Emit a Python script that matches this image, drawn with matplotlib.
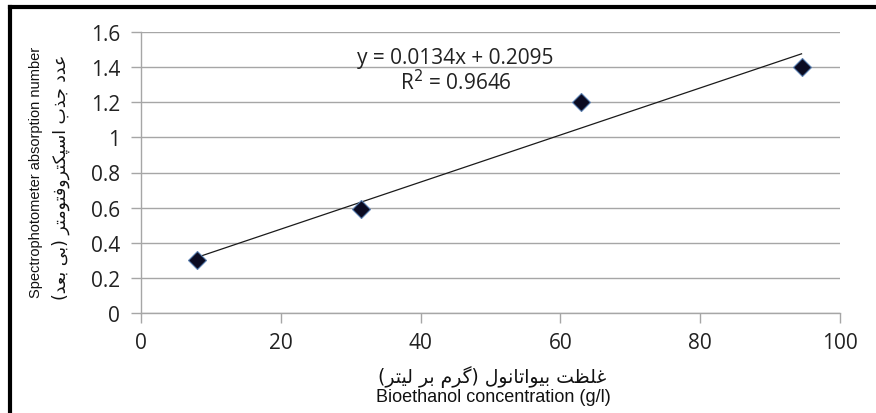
import unicodedata
import numpy as np
import matplotlib
matplotlib.use("Agg")
import matplotlib.pyplot as plt
from matplotlib.lines import Line2D

# data
conc = [8, 31.5, 63, 94.5]
absorb = [0.3, 0.59, 1.2, 1.4]
slope, intercept = 0.0134, 0.2095
eq_text = "y = 0.0134x + 0.2095"
r2_text = "R$^2$ = 0.9646"
x_ticks = [0, 20, 40, 60, 80, 100]
y_ticks = [0, 0.2, 0.4, 0.6, 0.8, 1, 1.2, 1.4, 1.6]
y_tick_labels = ["0", "0.2", "0.4", "0.6", "0.8", "1", "1.2", "1.4", "1.6"]
xlabel_fa = "غلظت بیواتانول (گرم بر لیتر)"
xlabel_en = "Bioethanol concentration (g/l)"
ylabel_fa = "عدد جذب اسپکتروفتومتر (بی بعد)"
ylabel_en = "Spectrophotometer absorption number"

# matplotlib has no arabic shaping, so pick contextual forms by hand
RIGHT_ONLY = set("ادذرزژوآأإؤة")


def is_ar(c):
    return "\u0600" <= c <= "\u06ff" and unicodedata.name(c, "").startswith("ARABIC LETTER")


def shape(s):
    out = []
    for i, c in enumerate(s):
        if not is_ar(c):
            out.append({"(": ")", ")": "("}.get(c, c))
            continue
        prev = s[i - 1] if i > 0 else ""
        nxt = s[i + 1] if i + 1 < len(s) else ""
        j_prev = prev != "" and is_ar(prev) and prev not in RIGHT_ONLY
        j_next = nxt != "" and is_ar(nxt) and c not in RIGHT_ONLY
        form = {(True, True): "MEDIAL", (True, False): "FINAL",
                (False, True): "INITIAL", (False, False): "ISOLATED"}[(j_prev, j_next)]
        try:
            out.append(unicodedata.lookup(unicodedata.name(c) + " " + form + " FORM"))
        except KeyError:
            out.append(c)
    return "".join(out[::-1])


fig = plt.figure(figsize=(8.76, 4.14), dpi=100)
ax = fig.add_axes([141 / 876, 1 - 314 / 414, (840 - 141) / 876, (314 - 33) / 414])

grid_c = "#a6a6a6"
ax.set_xlim(0, 100)
ax.set_ylim(0, 1.6)
ax.set_xticks(x_ticks)
ax.set_yticks(y_ticks)
ax.set_yticklabels(y_tick_labels)
ax.grid(axis="y", color=grid_c, lw=1)
ax.set_axisbelow(True)
for side in ["top", "right"]:
    ax.spines[side].set_visible(False)
for side in ["left", "bottom"]:
    ax.spines[side].set_color(grid_c)
    ax.spines[side].set_linewidth(1)
ax.tick_params(colors=grid_c, length=7, width=1, labelcolor="#222222",
               labelsize=15)
ax.tick_params(axis="x", pad=7)
ax.tick_params(axis="y", pad=8)
for lab in ax.get_xticklabels() + ax.get_yticklabels():
    lab.set_family("Open Sans")

xs = np.array([min(conc), max(conc)])
ax.plot(xs, slope * xs + intercept, color="#1a1a1a", lw=0.9, zorder=2)
ax.plot(conc, absorb, ls="none", marker="D", ms=9.5, mfc="#0b0b22",
        mec="#5a7fb0", mew=0.8, zorder=3)

ax.text(45, 1.455, eq_text, ha="center", va="center", fontsize=15,
        family="Open Sans", color="#222222")
ax.text(45, 1.32, r2_text, ha="center", va="center", fontsize=15,
        family="Open Sans", color="#222222")

fig.text(492 / 876, 1 - 377 / 414, shape(xlabel_fa), ha="center", va="center",
         fontsize=13.5, family="DejaVu Sans", color="#111111")
fig.text(493 / 876, 1 - 398 / 414, xlabel_en, ha="center", va="center",
         fontsize=13, family="Liberation Sans", color="#111111")
fig.text(36 / 876, 1 - 172 / 414, ylabel_en, ha="center", va="center",
         rotation=90, fontsize=10.5, family=["Liberation Sans Narrow", "Liberation Sans"],
         color="#111111")
fig.text(61 / 876, 1 - 177 / 414, shape(ylabel_fa), ha="center", va="center",
         rotation=90, fontsize=12.5, family="DejaVu Sans", color="#111111")

# outer frame, only left and top edges show in the crop
fig.add_artist(Line2D([10 / 876, 10 / 876], [0, 1 - 8 / 414], transform=fig.transFigure,
                      color="black", lw=3))
fig.add_artist(Line2D([10 / 876, 1], [1 - 8 / 414, 1 - 8 / 414], transform=fig.transFigure,
                      color="black", lw=3))

fig.savefig("out.png", dpi=100)
